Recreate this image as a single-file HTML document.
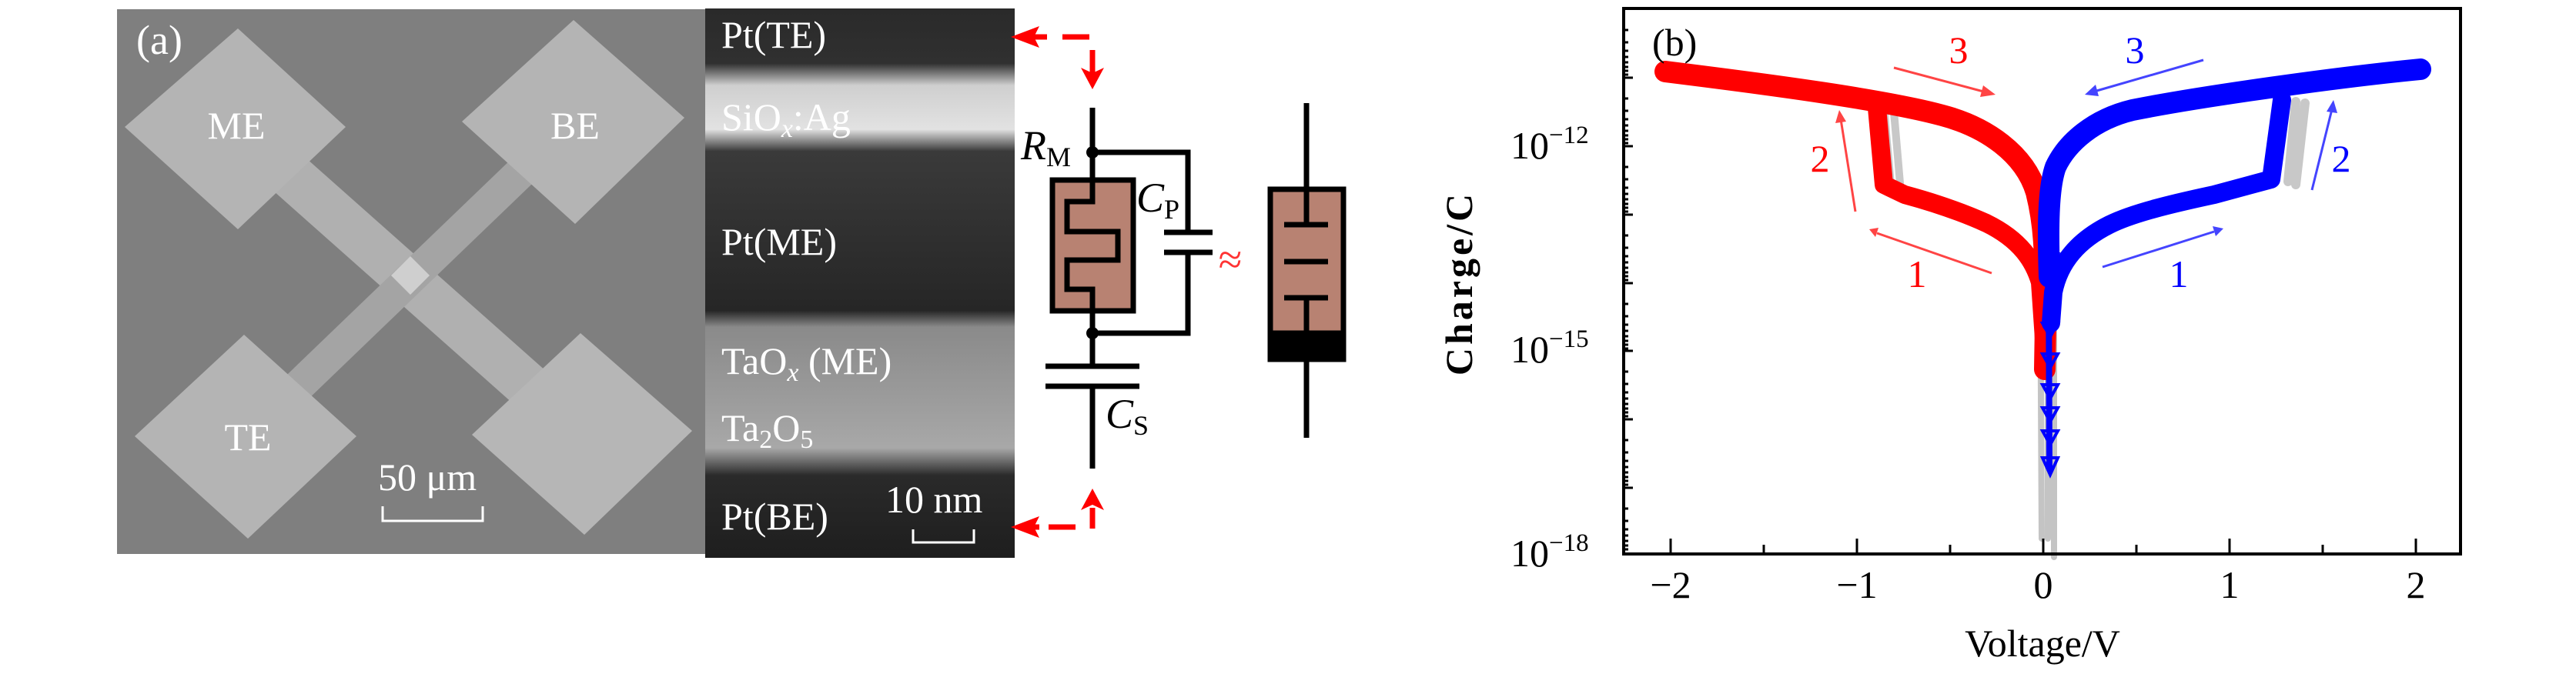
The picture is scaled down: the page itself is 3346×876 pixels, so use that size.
<!DOCTYPE html>
<html><head><meta charset="utf-8"><style>
html,body{margin:0;padding:0;background:#fff;}
svg{display:block;}
text{font-family:"Liberation Serif",serif;}
</style></head><body>
<svg width="3346" height="876" viewBox="0 0 3346 876" xmlns="http://www.w3.org/2000/svg">
<defs>
<linearGradient id="tem" x1="0" y1="0" x2="0" y2="1">
<stop offset="0" stop-color="#2a2a2a"/>
<stop offset="0.10" stop-color="#303030"/>
<stop offset="0.14" stop-color="#cfcfcf"/>
<stop offset="0.22" stop-color="#e2e2e2"/>
<stop offset="0.26" stop-color="#3a3a3a"/>
<stop offset="0.55" stop-color="#262626"/>
<stop offset="0.58" stop-color="#8a8a8a"/>
<stop offset="0.70" stop-color="#9a9a9a"/>
<stop offset="0.80" stop-color="#a8a8a8"/>
<stop offset="0.85" stop-color="#2a2a2a"/>
<stop offset="1" stop-color="#1e1e1e"/>
</linearGradient>
</defs>
<!-- SEM panel -->
<rect x="152" y="12" width="764" height="708" fill="#7f7f7f"/>
<line x1="309" y1="167" x2="756" y2="564" stroke="#b0b0b0" stroke-width="60"/>
<line x1="745" y1="158" x2="320" y2="567" stroke="#a4a4a4" stroke-width="42"/>
<polygon points="309,37 449,165 309,298 162,165" fill="#b4b4b4"/>
<polygon points="745,26 889,153 747,291 600,158" fill="#b4b4b4"/>
<polygon points="317,435 463,567 322,700 175,567" fill="#b4b4b4"/>
<polygon points="754,433 899,560 759,695 613,565" fill="#b6b6b6"/>
<polygon points="533,333 558,358 533,383 508,358" fill="#cfcfcf"/>
<g fill="#fff" font-size="50">
<text x="177" y="70" font-size="54">(a)</text>
<text x="307" y="180" text-anchor="middle">ME</text>
<text x="747" y="180" text-anchor="middle">BE</text>
<text x="322" y="585" text-anchor="middle">TE</text>
<text x="491" y="637">50 μm</text>
</g>
<path d="M497,658 V677 H627 V658" stroke="#fff" stroke-width="3" fill="none"/>
<!-- TEM -->
<rect x="916" y="11" width="402" height="714" fill="url(#tem)"/>
<g fill="#fff" font-size="50">
<text x="937" y="62">Pt(TE)</text>
<text x="937" y="169">SiO<tspan font-size="34" font-style="italic" dy="9">x</tspan><tspan dy="-9">:Ag</tspan></text>
<text x="937" y="331">Pt(ME)</text>
<text x="937" y="486">TaO<tspan font-size="34" font-style="italic" dy="9">x</tspan><tspan dy="-9"> (ME)</tspan></text>
<text x="937" y="573">Ta<tspan font-size="34" dy="9">2</tspan><tspan dy="-9">O</tspan><tspan font-size="34" dy="9">5</tspan></text>
<text x="937" y="688">Pt(BE)</text>
<text x="1150" y="666">10 nm</text>
</g>
<path d="M1186,688 V705 H1265 V688" stroke="#fff" stroke-width="3" fill="none"/>
<!-- red arrows -->
<g stroke="#f00" stroke-width="7" fill="#f00">
<line x1="1340" y1="48" x2="1360" y2="48"/>
<polygon points="1313,48 1350,34 1343,48 1350,62" stroke="none"/>
<line x1="1380" y1="48" x2="1415" y2="48"/>
<line x1="1419" y1="65" x2="1419" y2="95"/>
<polygon points="1419,116 1404,88 1419,95 1434,88" stroke="none"/>
<line x1="1419" y1="660" x2="1419" y2="687"/>
<polygon points="1419,635 1404,663 1419,656 1434,663" stroke="none"/>
<polygon points="1313,685 1350,671 1343,685 1350,699" stroke="none"/>
<line x1="1340" y1="685" x2="1350" y2="685"/>
<line x1="1362" y1="685" x2="1397" y2="685"/>
</g>
<!-- circuit -->
<g stroke="#000" stroke-width="7" fill="none">
<line x1="1419" y1="140" x2="1419" y2="476"/>
<line x1="1419" y1="502" x2="1419" y2="609"/>
<polyline points="1419,198 1543,198 1543,302"/>
<polyline points="1543,328 1543,433 1419,433"/>
<line x1="1512" y1="302" x2="1575" y2="302"/>
<line x1="1512" y1="328" x2="1575" y2="328"/>
<line x1="1358" y1="476" x2="1480" y2="476"/>
<line x1="1358" y1="502" x2="1480" y2="502"/>
<rect x="1367" y="234" width="105" height="170" fill="#b88272"/>
<polyline points="1419,234 1419,262 1386,262 1386,301 1452,301 1452,338 1386,338 1386,376 1419,376 1419,404"/>
</g>
<circle cx="1419" cy="198" r="8" fill="#000"/>
<circle cx="1419" cy="433" r="8" fill="#000"/>
<text x="1598" y="356" font-size="56" fill="#f33" text-anchor="middle">≈</text>
<g font-size="54" font-style="italic" fill="#000">
<text x="1326" y="207">R<tspan font-style="normal" font-size="36" dy="9">M</tspan></text>
<text x="1476" y="275">C<tspan font-style="normal" font-size="36" dy="9">P</tspan></text>
<text x="1436" y="556">C<tspan font-style="normal" font-size="36" dy="9">S</tspan></text>
</g>
<!-- right component -->
<g stroke="#000" stroke-width="7">
<rect x="1650" y="246" width="95" height="221" fill="#b88272"/>
<rect x="1650" y="433" width="95" height="34" fill="#000"/>
<line x1="1697" y1="134" x2="1697" y2="292"/>
<line x1="1697" y1="387" x2="1697" y2="569"/>
<line x1="1668" y1="292" x2="1725" y2="292"/>
<line x1="1668" y1="340" x2="1725" y2="340"/>
<line x1="1668" y1="387" x2="1725" y2="387"/>
</g>
<!-- plot b -->
<g fill="none" stroke-linecap="round" stroke-linejoin="round">
<path d="M2447,140 L2456,240 M2460,145 L2468,238" stroke="#c8c8c8" stroke-width="10"/>
<path d="M2982,132 L2972,236 M2994,134 L2982,240" stroke="#c8c8c8" stroke-width="12"/>
<path d="M2650,330 L2652,700 M2668,330 L2668,724 M2660,330 L2660,700" stroke="#c4c4c4" stroke-width="8"/>
<path d="M2163,93 C2300,110 2450,130 2523,150 C2580,165 2630,200 2645,250 C2655,290 2657,320 2657,420 L2656,480" stroke="#f00" stroke-width="28"/>
<path d="M2438,140 L2447,240 L2474,253 C2500,260 2540,272 2580,290 C2625,312 2642,340 2650,367 L2655,440" stroke="#f00" stroke-width="24"/>
<path d="M3144,90 C3040,100 2860,125 2770,143 C2720,155 2685,185 2670,217 C2660,245 2660,300 2662,360" stroke="#00f" stroke-width="28"/>
<path d="M2964,130 L2950,233 L2876,253 C2820,265 2770,277 2740,292 C2700,312 2675,340 2667,380 L2664,420" stroke="#00f" stroke-width="24"/>
<path d="M2661,330 L2662,610" stroke="#00f" stroke-width="8"/>
</g>
<g fill="none" stroke="#00f" stroke-width="4">
<path d="M2653,460 L2673,460 L2663,478 Z M2653,500 L2673,500 L2663,518 Z M2653,530 L2673,530 L2663,548 Z M2653,560 L2673,560 L2663,578 Z M2653,595 L2673,595 L2663,617 Z M2653,420 L2673,420 L2663,438 Z M2653,330 L2673,330 L2663,348 Z M2653,355 L2673,355 L2663,373 Z"/>
</g>
<!-- arrows -->
<g stroke-width="3">
<line x1="2460" y1="88" x2="2580" y2="120" stroke="#f44"/>
<polygon points="2592,123 2576,111 2572,126" fill="#f44"/>
<line x1="2862" y1="78" x2="2720" y2="119" stroke="#44f"/>
<polygon points="2708,123 2722,110 2726,125" fill="#44f"/>
<line x1="2410" y1="275" x2="2391" y2="155" stroke="#f44"/>
<polygon points="2389,143 2384,160 2398,158" fill="#f44"/>
<line x1="3003" y1="247" x2="3029" y2="142" stroke="#44f"/>
<polygon points="3031,130 3022,145 3036,147" fill="#44f"/>
<line x1="2587" y1="355" x2="2438" y2="303" stroke="#f44"/>
<polygon points="2428,298 2440,296 2436,308" fill="#f44"/>
<line x1="2731" y1="347" x2="2876" y2="301" stroke="#44f"/>
<polygon points="2888,297 2874,294 2878,307" fill="#44f"/>
</g>
<g font-size="50">
<text x="2544" y="82" fill="#f00" text-anchor="middle">3</text>
<text x="2773" y="82" fill="#00f" text-anchor="middle">3</text>
<text x="2364" y="223" fill="#f00" text-anchor="middle">2</text>
<text x="3041" y="223" fill="#00f" text-anchor="middle">2</text>
<text x="2490" y="373" fill="#f00" text-anchor="middle">1</text>
<text x="2830" y="373" fill="#00f" text-anchor="middle">1</text>
<text x="2146" y="72" fill="#000">(b)</text>
</g>
<rect x="2109" y="11" width="1087" height="709" fill="none" stroke="#000" stroke-width="4"/>
<g stroke="#000" stroke-width="3">
<line x1="2170" y1="720" x2="2170" y2="700"/><line x1="2291" y1="720" x2="2291" y2="708"/>
<line x1="2412" y1="720" x2="2412" y2="700"/><line x1="2533" y1="720" x2="2533" y2="708"/>
<line x1="2654" y1="720" x2="2654" y2="700"/><line x1="2775" y1="720" x2="2775" y2="708"/>
<line x1="2896" y1="720" x2="2896" y2="700"/><line x1="3017" y1="720" x2="3017" y2="708"/>
<line x1="3138" y1="720" x2="3138" y2="700"/>
</g>
<g stroke="#000" stroke-width="3">
<line x1="2109" y1="101" x2="2121" y2="101"/><line x1="2109" y1="190" x2="2121" y2="190"/>
<line x1="2109" y1="279" x2="2121" y2="279"/><line x1="2109" y1="368" x2="2121" y2="368"/>
<line x1="2109" y1="456" x2="2121" y2="456"/><line x1="2109" y1="545" x2="2121" y2="545"/>
<line x1="2109" y1="634" x2="2121" y2="634"/>
<path d="M2109,128h6M2109,144h6M2109,155h6M2109,163h6M2109,170h6M2109,176h6M2109,181h6M2109,186h6
M2109,39h6M2109,55h6M2109,66h6M2109,74h6M2109,81h6M2109,87h6M2109,92h6M2109,97h6
M2109,217h6M2109,233h6M2109,244h6M2109,252h6M2109,259h6M2109,265h6M2109,270h6M2109,275h6
M2109,306h6M2109,322h6M2109,333h6M2109,341h6M2109,348h6M2109,354h6M2109,359h6M2109,364h6
M2109,395h6M2109,411h6M2109,422h6M2109,430h6M2109,437h6M2109,443h6M2109,448h6M2109,453h6
M2109,483h6M2109,499h6M2109,510h6M2109,518h6M2109,525h6M2109,531h6M2109,536h6M2109,541h6
M2109,572h6M2109,588h6M2109,599h6M2109,607h6M2109,614h6M2109,620h6M2109,625h6M2109,630h6
M2109,661h6M2109,677h6M2109,688h6M2109,696h6M2109,703h6M2109,709h6M2109,714h6"/>
</g>
<g font-size="50" fill="#000">
<text x="2170" y="777" text-anchor="middle">−2</text>
<text x="2412" y="777" text-anchor="middle">−1</text>
<text x="2654" y="777" text-anchor="middle">0</text>
<text x="2896" y="777" text-anchor="middle">1</text>
<text x="3138" y="777" text-anchor="middle">2</text>
<text x="1962" y="206">10<tspan font-size="33" dy="-20">−12</tspan></text>
<text x="1962" y="471">10<tspan font-size="33" dy="-20">−15</tspan></text>
<text x="1962" y="736">10<tspan font-size="33" dy="-20">−18</tspan></text>
<text x="2653" y="853" text-anchor="middle">Voltage/V</text>
<text x="0" y="0" transform="translate(1912,368) rotate(-90)" text-anchor="middle" letter-spacing="4" font-weight="bold">Charge/C</text>
</g>
</svg>
</body></html>
